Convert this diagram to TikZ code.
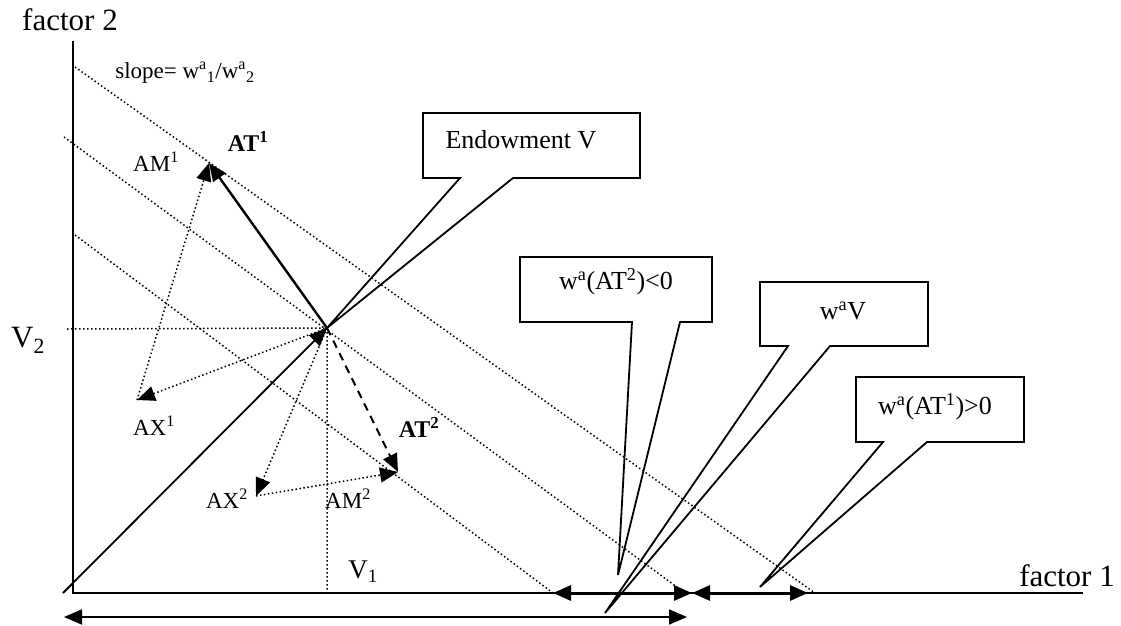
\documentclass[tikz,border=0pt]{standalone}
\usepackage{fontspec}
\setmainfont{Liberation Serif}
\usetikzlibrary{arrows.meta}
\tikzset{
  axis/.style={line width=2pt},
  guide/.style={line width=1.5pt, dash pattern=on 1.5pt off 2.5pt},
  tip/.style={-{Triangle[length=18pt,width=15pt]}},
  bothtip/.style={{Triangle[length=18pt,width=15pt]}-{Triangle[length=18pt,width=15pt]}},
  callout/.style={line width=1.8pt, line join=miter},
  lbl/.style={inner sep=0pt, font=\fontsize{23}{23}\selectfont},
  boxtxt/.style={inner sep=0pt, font=\fontsize{26}{26}\selectfont},
}
\begin{document}
\begin{tikzpicture}[x=1pt,y=-1pt]
\useasboundingbox (0,0) rectangle (1121,626);

% key points
\coordinate (O)   at (73,593);
\coordinate (Ytop) at (73,41);
\coordinate (Xend) at (1083,593);
\coordinate (Dstart) at (63,593);
\coordinate (V)   at (327,328);
\coordinate (AM1) at (209,163);
\coordinate (AX1) at (137,400);
\coordinate (AX2) at (256,496);
\coordinate (AM2) at (398,472);
\coordinate (Vx)  at (327,593);
\coordinate (Vy)  at (67,329);

% axes
\draw[axis] (Ytop) -- (O) -- (Xend);

% iso-cost lines
\coordinate (L1a) at (75,67);   \coordinate (L1b) at (815,593);
\coordinate (L2a) at (64,137);  \coordinate (L2b) at (685,593);
\coordinate (L3a) at (75,235);  \coordinate (L3b) at (553,593);
\draw[guide] (L1a) -- (L1b);
\draw[guide] (L2a) -- (L2b);
\draw[guide] (L3a) -- (L3b);
\draw[guide] (Vy) -- (V) -- (Vx);

% endowment ray
\draw[line width=1.8pt, tip] (Dstart) -- (V);

% trade vectors
\draw[guide, tip] (V) -- (AX1);
\draw[guide, tip] (AX1) -- (AM1);
\draw[line width=2.4pt, tip] (V) -- (AM1);
\draw[guide, tip] (V) -- (AX2);
\draw[guide, tip] (AX2) -- (AM2);
\draw[line width=2pt, dash pattern=on 8pt off 6pt, tip] (V) -- (AM2);

% value segments on factor 1 axis
\coordinate (S1) at (553,593);
\coordinate (S2) at (692,593);
\coordinate (S3) at (808,593);
\draw[line width=3pt, bothtip] (S1) -- (S2);
\draw[line width=3pt, bothtip] (S2) -- (S3);
\coordinate (B1) at (64,617);
\coordinate (B2) at (687,617);
\draw[line width=1.8pt, bothtip] (B1) -- (B2);

% labels
\node[inner sep=0pt, font=\fontsize{31}{31}\selectfont] (f2) at (70,20) {factor 2};
\node[inner sep=0pt, font=\fontsize{31}{31}\selectfont] (f1) at (1067,576) {factor 1};
\node[inner sep=0pt, font=\fontsize{23}{23}\selectfont] (slope) at (185,73)
  {slope= w\textsuperscript{a}\textsubscript{1}/w\textsuperscript{a}\textsubscript{2}};
\node[lbl, font=\fontsize{24}{24}\selectfont\bfseries] (lAT1) at (248,141) {AT\textsuperscript{1}};
\node[lbl] (lAM1) at (156,162) {AM\textsuperscript{1}};
\node[lbl] (lAX1) at (154,426) {AX\textsuperscript{1}};
\node[lbl] (lAX2) at (227,499) {AX\textsuperscript{2}};
\node[lbl] (lAM2) at (348,499) {AM\textsuperscript{2}};
\node[lbl, font=\fontsize{24}{24}\selectfont\bfseries] (lAT2) at (419,427) {AT\textsuperscript{2}};
\node[inner sep=0pt, font=\fontsize{31}{31}\selectfont] (lV2) at (28,340) {V\textsubscript{2}};
\node[inner sep=0pt, font=\fontsize{27}{27}\selectfont] (lV1) at (363,572) {V\textsubscript{1}};

% callouts
\coordinate (T2) at (618,575);
\coordinate (TV) at (605,613);
\coordinate (T1) at (760,587);
\draw[callout] (460,178) -- (V) -- (513,178) -- (640,178) -- (640,113) -- (423,113) -- (423,178) -- cycle;
\node[boxtxt] (cEnd) at (521,140) {Endowment V};
\draw[callout] (632,322) -- (T2) -- (680,322) -- (712,322) -- (712,257) -- (520,257) -- (520,322) -- cycle;
\node[boxtxt] (cAT2) at (616,282) {w\textsuperscript{a}(AT\textsuperscript{2})<0};
\draw[callout] (788,346) -- (TV) -- (830,346) -- (928,346) -- (928,282) -- (760,282) -- (760,346) -- cycle;
\node[boxtxt] (cWV) at (843,311) {w\textsuperscript{a}V};
\draw[callout] (883,442) -- (T1) -- (927,442) -- (1024,442) -- (1024,377) -- (856,377) -- (856,442) -- cycle;
\node[boxtxt] (cAT1) at (935,407) {w\textsuperscript{a}(AT\textsuperscript{1})>0};
\end{tikzpicture}
\end{document}
